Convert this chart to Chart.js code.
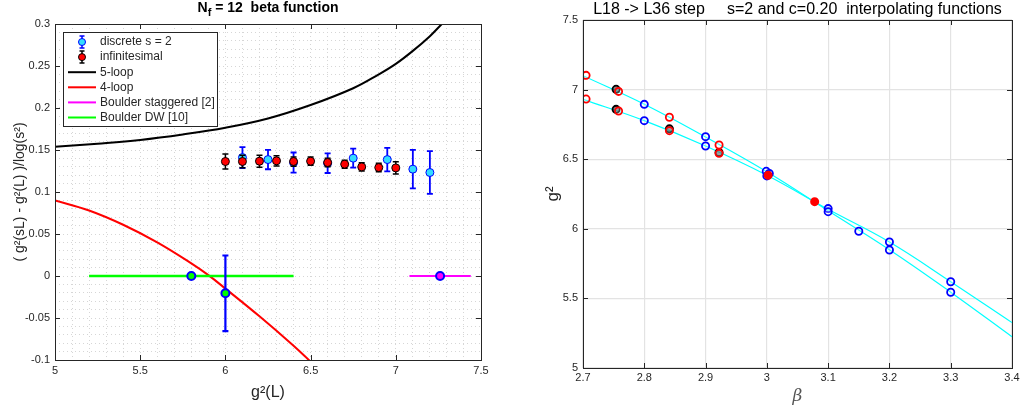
<!DOCTYPE html>
<html>
<head>
<meta charset="utf-8">
<script src="https://cdn.jsdelivr.net/npm/chart.js@4.4.1/dist/chart.umd.min.js"></script>
<style>
  html, body { margin: 0; padding: 0; background: #fff; }
  #left { position: absolute; left: 0; top: 0; width: 500px; height: 412px; }
  #right { position: absolute; left: 500px; top: 0; width: 535px; height: 412px; }
</style>
</head>
<body>
<div id="left"><canvas id="beta" width="500" height="412"></canvas></div>
<div id="right"><canvas id="step" width="535" height="412"></canvas></div>
<script>
// ---- left panel: Nf = 12 beta function ----
const fiveLoopX = [5.0, 5.25, 5.5, 5.75, 6.0, 6.25, 6.5, 6.75, 6.9, 7.0, 7.1, 7.2, 7.27];
const fiveLoopY = [0.1538, 0.1575, 0.162, 0.1685, 0.1765, 0.1875, 0.2035, 0.2235, 0.240, 0.2525, 0.268, 0.2855, 0.300];
const fourLoopX = [5.0, 5.2, 5.4, 5.6, 5.8, 5.9, 6.0, 6.2, 6.4, 6.5];
const fourLoopY = [0.090, 0.078, 0.061, 0.040, 0.015, 0.001, -0.015, -0.048, -0.083, -0.102];

const discreteX   = [6.1, 6.25, 6.4, 6.6, 6.75, 6.95, 7.1, 7.2];
const discreteY   = [0.141, 0.1386, 0.135, 0.1343, 0.1403, 0.1386, 0.1272, 0.1232];
const discreteErr = [0.0125, 0.0115, 0.012, 0.0117, 0.0113, 0.014, 0.0229, 0.0254];

const infX   = [6.0, 6.1, 6.2, 6.3, 6.4, 6.5, 6.6, 6.7, 6.8, 6.9, 7.0];
const infY   = [0.1363, 0.1363, 0.1367, 0.1371, 0.1363, 0.1367, 0.1351, 0.1331, 0.1299, 0.1291, 0.1287];
const infErr = [0.0089, 0.0075, 0.0071, 0.006, 0.0055, 0.005, 0.005, 0.0048, 0.0048, 0.005, 0.0073];

const boulderPtsX   = [5.8, 6.0, 7.26];
const boulderPtsY   = [0, -0.0206, 0];
const boulderPtsErr = [0, 0.045, 0];
const boulderDwX    = [5.2, 6.4];
const boulderStagX  = [7.08, 7.44];

// ---- right panel: L18 -> L36 step ----
const fitX  = [2.7, 2.8, 2.9, 3.0, 3.1, 3.2, 3.3, 3.4];
const fitAY = [7.10, 6.895, 6.66, 6.41, 6.13, 5.85, 5.545, 5.225];
const fitBY = [6.93, 6.777, 6.595, 6.385, 6.14, 5.905, 5.62, 5.326];

const blueX = [2.8, 2.8, 2.9, 2.9, 2.999, 3.004, 3.0, 3.1, 3.1, 3.15, 3.2, 3.2, 3.3, 3.3];
const blueY = [6.894, 6.777, 6.662, 6.595, 6.413, 6.398, 6.38, 6.145, 6.123, 5.982, 5.905, 5.848, 5.62, 5.544];
const redX  = [2.705, 2.705, 2.758, 2.758, 2.841, 2.841, 2.922, 2.922];
const redY  = [7.1025, 6.932, 6.987, 6.846, 6.801, 6.705, 6.602, 6.542];
const redSolidX = [3.002, 3.078];
const redSolidY = [6.385, 6.195];
const blackX = [2.754, 2.754, 2.841, 2.922];
const blackY = [7.002, 6.858, 6.718, 6.548];

const FONT = "'Liberation Sans', Arial, Helvetica, sans-serif";
const pts = (xs, ys) => xs.map((x, i) => ({ x, y: ys[i] }));

// error bars under the markers of a dataset
const errorBars = {
  id: 'errorBars',
  beforeDatasetDraw(chart, args) {
    const ds = chart.data.datasets[args.index];
    if (!ds.errors) return;
    const { ctx, scales: { x, y } } = chart;
    ctx.save();
    ctx.strokeStyle = ds.errorColor;
    ctx.lineWidth = ds.errorWidth;
    ds.data.forEach((p, i) => {
      const e = ds.errors[i];
      if (!e) return;
      const px = x.getPixelForValue(p.x);
      const t = y.getPixelForValue(p.y + e), b = y.getPixelForValue(p.y - e);
      ctx.beginPath();
      ctx.moveTo(px, t); ctx.lineTo(px, b);
      ctx.moveTo(px - 3, t); ctx.lineTo(px + 3, t);
      ctx.moveTo(px - 3, b); ctx.lineTo(px + 3, b);
      ctx.stroke();
    });
    ctx.restore();
  }
};

// matlab style box with inward ticks
const frame = {
  id: 'frame',
  afterDatasetsDraw(chart, args, opts) {
    const { ctx, chartArea: a, scales: { x, y } } = chart;
    ctx.save();
    ctx.strokeStyle = opts.color;
    ctx.lineWidth = 1;
    ctx.beginPath();
    x.ticks.forEach(t => {
      if (t.label === '') return;
      const px = Math.round(x.getPixelForValue(t.value)) + 0.5;
      ctx.moveTo(px, a.bottom); ctx.lineTo(px, a.bottom - 5);
      ctx.moveTo(px, a.top); ctx.lineTo(px, a.top + 5);
    });
    y.ticks.forEach(t => {
      if (t.label === '') return;
      const py = Math.round(y.getPixelForValue(t.value)) + 0.5;
      ctx.moveTo(a.left, py); ctx.lineTo(a.left + 5, py);
      ctx.moveTo(a.right, py); ctx.lineTo(a.right - 5, py);
    });
    ctx.stroke();
    ctx.strokeRect(Math.round(a.left) + 0.5, Math.round(a.top) + 0.5,
                   Math.round(a.right - a.left), Math.round(a.bottom - a.top));
    ctx.restore();
  }
};

// ---------------- left chart ----------------
const betaTitle = {
  id: 'betaTitle',
  afterDraw(chart) {
    const { ctx, chartArea: a } = chart;
    const big = 'bold 14px ' + FONT, small = 'bold 11px ' + FONT;
    ctx.save();
    ctx.fillStyle = '#000';
    ctx.textBaseline = 'alphabetic';
    ctx.font = big;
    const wN = ctx.measureText('N').width;
    const rest = ' = 12  beta function';
    const wR = ctx.measureText(rest).width;
    ctx.font = small;
    const wF = ctx.measureText('f').width;
    let x0 = (a.left + a.right) / 2 - (wN + wF + wR) / 2;
    ctx.font = big;
    ctx.fillText('N', x0, 12);
    ctx.font = small;
    ctx.fillText('f', x0 + wN, 16);
    ctx.font = big;
    ctx.fillText(rest, x0 + wN + wF, 12);
    ctx.restore();
  }
};

const betaLegend = {
  id: 'betaLegend',
  afterDraw(chart) {
    const { ctx } = chart;
    const rows = [
      { text: 'discrete s = 2', kind: 'err', fill: '#33ddff', stroke: '#0000ff' },
      { text: 'infinitesimal', kind: 'err', fill: '#ff0000', stroke: '#000000' },
      { text: '5-loop', kind: 'line', color: '#000000' },
      { text: '4-loop', kind: 'line', color: '#ff0000' },
      { text: 'Boulder staggered [2]', kind: 'line', color: '#ff00ff' },
      { text: 'Boulder DW [10]', kind: 'line', color: '#00ff00' }
    ];
    ctx.save();
    ctx.fillStyle = '#fff';
    ctx.fillRect(63.5, 32.5, 154, 94);
    ctx.strokeStyle = '#262626';
    ctx.lineWidth = 1;
    ctx.strokeRect(63.5, 32.5, 154, 94);
    ctx.font = '12px ' + FONT;
    ctx.textBaseline = 'middle';
    rows.forEach((r, i) => {
      const cy = 42 + i * 15.1;
      if (r.kind === 'line') {
        ctx.strokeStyle = r.color;
        ctx.lineWidth = 2;
        ctx.beginPath(); ctx.moveTo(68, cy); ctx.lineTo(96, cy); ctx.stroke();
      } else {
        ctx.strokeStyle = r.stroke;
        ctx.lineWidth = 1.5;
        ctx.beginPath();
        ctx.moveTo(82, cy - 6); ctx.lineTo(82, cy + 6);
        ctx.moveTo(79.5, cy - 6); ctx.lineTo(84.5, cy - 6);
        ctx.moveTo(79.5, cy + 6); ctx.lineTo(84.5, cy + 6);
        ctx.stroke();
        ctx.fillStyle = r.fill;
        ctx.lineWidth = 1;
        ctx.beginPath(); ctx.arc(82, cy, 3.5, 0, Math.PI * 2); ctx.fill(); ctx.stroke();
      }
      ctx.fillStyle = '#262626';
      ctx.fillText(r.text, 100, cy);
    });
    ctx.restore();
  }
};

new Chart(document.getElementById('beta'), {
  type: 'scatter',
  data: {
    datasets: [
      { label: 'infinitesimal', data: pts(infX, infY), errors: infErr, errorColor: '#000', errorWidth: 1.5,
        pointRadius: 4, pointBackgroundColor: '#ff0000', pointBorderColor: '#000', pointBorderWidth: 1, order: 1 },
      { label: 'discrete s = 2', data: pts(discreteX, discreteY), errors: discreteErr, errorColor: '#0000ff', errorWidth: 1.8,
        pointRadius: 4, pointBackgroundColor: '#33ddff', pointBorderColor: '#0000ff', pointBorderWidth: 1, order: 2 },
      { label: 'Boulder points', data: pts(boulderPtsX, boulderPtsY), errors: boulderPtsErr, errorColor: '#0000ff', errorWidth: 2.2,
        pointRadius: 4, pointBackgroundColor: ['#00ff00', '#00ff00', '#ff00ff'], pointBorderColor: '#0000ff', pointBorderWidth: 2, order: 3 },
      { label: 'Boulder DW [10]', data: pts(boulderDwX, boulderDwX.map(() => 0)), showLine: true, pointRadius: 0,
        borderColor: '#00ff00', borderWidth: 2.5, order: 4 },
      { label: 'Boulder staggered [2]', data: pts(boulderStagX, boulderStagX.map(() => 0)), showLine: true, pointRadius: 0,
        borderColor: '#ff00ff', borderWidth: 2, order: 5 },
      { label: '4-loop', data: pts(fourLoopX, fourLoopY), showLine: true, pointRadius: 0, tension: 0.4,
        borderColor: '#ff0000', borderWidth: 2, order: 6 },
      { label: '5-loop', data: pts(fiveLoopX, fiveLoopY), showLine: true, pointRadius: 0, tension: 0.4,
        borderColor: '#000000', borderWidth: 2, order: 7 }
    ]
  },
  options: {
    responsive: false,
    animation: false,
    devicePixelRatio: 1,
    layout: { padding: { left: 0, right: 19, top: 24, bottom: 0 } },
    plugins: { legend: { display: false }, tooltip: { enabled: false }, frame: { color: '#262626' } },
    scales: {
      x: {
        type: 'linear', min: 5, max: 7.5,
        afterFit(s) { s.height = 52; },
        ticks: {
          stepSize: 0.1, autoSkip: false, maxTicksLimit: 100, maxRotation: 0, padding: 4.4,
          color: '#262626', font: { size: 11, family: FONT },
          callback(v) { const k = Math.round(v * 10); return k % 5 === 0 ? String(k / 10) : ''; }
        },
        grid: { color: '#d6d6d6', lineWidth: 1, drawTicks: false },
        border: { display: false, dash: [1, 3] },
        title: { display: true, text: 'g²(L)', color: '#262626', font: { size: 16, family: FONT },
                 padding: { top: 0, bottom: 9.4 } }
      },
      y: {
        type: 'linear', min: -0.1, max: 0.3,
        afterFit(s) { s.width = 55; },
        ticks: {
          stepSize: 0.01, autoSkip: false, maxTicksLimit: 100, padding: 5,
          color: '#262626', font: { size: 11, family: FONT },
          callback(v) { const k = Math.round(v * 100); return k % 5 === 0 ? String(k / 100) : ''; }
        },
        grid: { color: '#d6d6d6', lineWidth: 1, drawTicks: false },
        border: { display: false, dash: [1, 3] },
        title: { display: true, text: '( g²(sL) - g²(L) )/log(s²)', color: '#262626', font: { size: 14, family: FONT },
                 padding: { top: 11.6, bottom: 0 } }
      }
    }
  },
  plugins: [errorBars, frame, betaTitle, betaLegend]
});

// ---------------- right chart ----------------
const stepTitle = {
  id: 'stepTitle',
  afterDraw(chart) {
    const { ctx, chartArea: a } = chart;
    ctx.save();
    ctx.fillStyle = '#000';
    ctx.font = '16px ' + FONT;
    ctx.textAlign = 'center';
    ctx.textBaseline = 'middle';
    ctx.fillText('L18 -> L36 step     s=2 and c=0.20  interpolating functions', (a.left + a.right) / 2, 10);
    ctx.restore();
  }
};

const circle = (data, color, fill, order) => ({
  data, showLine: false, pointRadius: 3.6, pointBorderWidth: 1.8,
  pointBorderColor: color, pointBackgroundColor: fill, order
});

new Chart(document.getElementById('step'), {
  type: 'scatter',
  data: {
    datasets: [
      circle(pts(redSolidX, redSolidY), '#ff0000', '#ff0000', 1),
      circle(pts(redX, redY), '#ff0000', 'rgba(255,255,255,0.25)', 2),
      circle(pts(blackX, blackY), '#000000', 'rgba(0,0,0,0.5)', 3),
      circle(pts(blueX, blueY), '#0000ff', 'rgba(255,255,255,0.25)', 4),
      { data: pts(fitX, fitAY), showLine: true, pointRadius: 0, tension: 0.4,
        borderColor: '#00ffff', borderWidth: 1.2, order: 5 },
      { data: pts(fitX, fitBY), showLine: true, pointRadius: 0, tension: 0.4,
        borderColor: '#00ffff', borderWidth: 1.2, order: 6 }
    ]
  },
  options: {
    responsive: false,
    animation: false,
    devicePixelRatio: 1,
    layout: { padding: { left: 0, right: 23, top: 20, bottom: 0 } },
    plugins: { legend: { display: false }, tooltip: { enabled: false }, frame: { color: '#262626' } },
    scales: {
      x: {
        type: 'linear', min: 2.7, max: 3.4,
        afterFit(s) { s.height = 44; },
        ticks: {
          stepSize: 0.1, autoSkip: false, maxRotation: 0, padding: 3.4,
          color: '#262626', font: { size: 11, family: FONT },
          callback(v) { return String(Math.round(v * 10) / 10); }
        },
        grid: { color: '#e3e3e3', lineWidth: 1.2, drawTicks: false },
        border: { display: false },
        title: { display: true, text: 'β', color: '#555', font: { size: 17, family: "'DejaVu Serif', serif", style: 'italic' },
                 padding: { top: 0, bottom: 4.8 } }
      },
      y: {
        type: 'linear', min: 5, max: 7.5,
        afterFit(s) { s.width = 83; },
        ticks: {
          stepSize: 0.5, autoSkip: false, padding: 5,
          color: '#262626', font: { size: 11, family: FONT },
          callback(v) { return String(Math.round(v * 10) / 10); }
        },
        grid: { color: '#e3e3e3', lineWidth: 1.2, drawTicks: false },
        border: { display: false },
        title: { display: true, text: 'g²', color: '#262626', font: { size: 17, family: FONT },
                 padding: { top: 42.8, bottom: 0 } }
      }
    }
  },
  plugins: [frame, stepTitle]
});
</script>
</body>
</html>
